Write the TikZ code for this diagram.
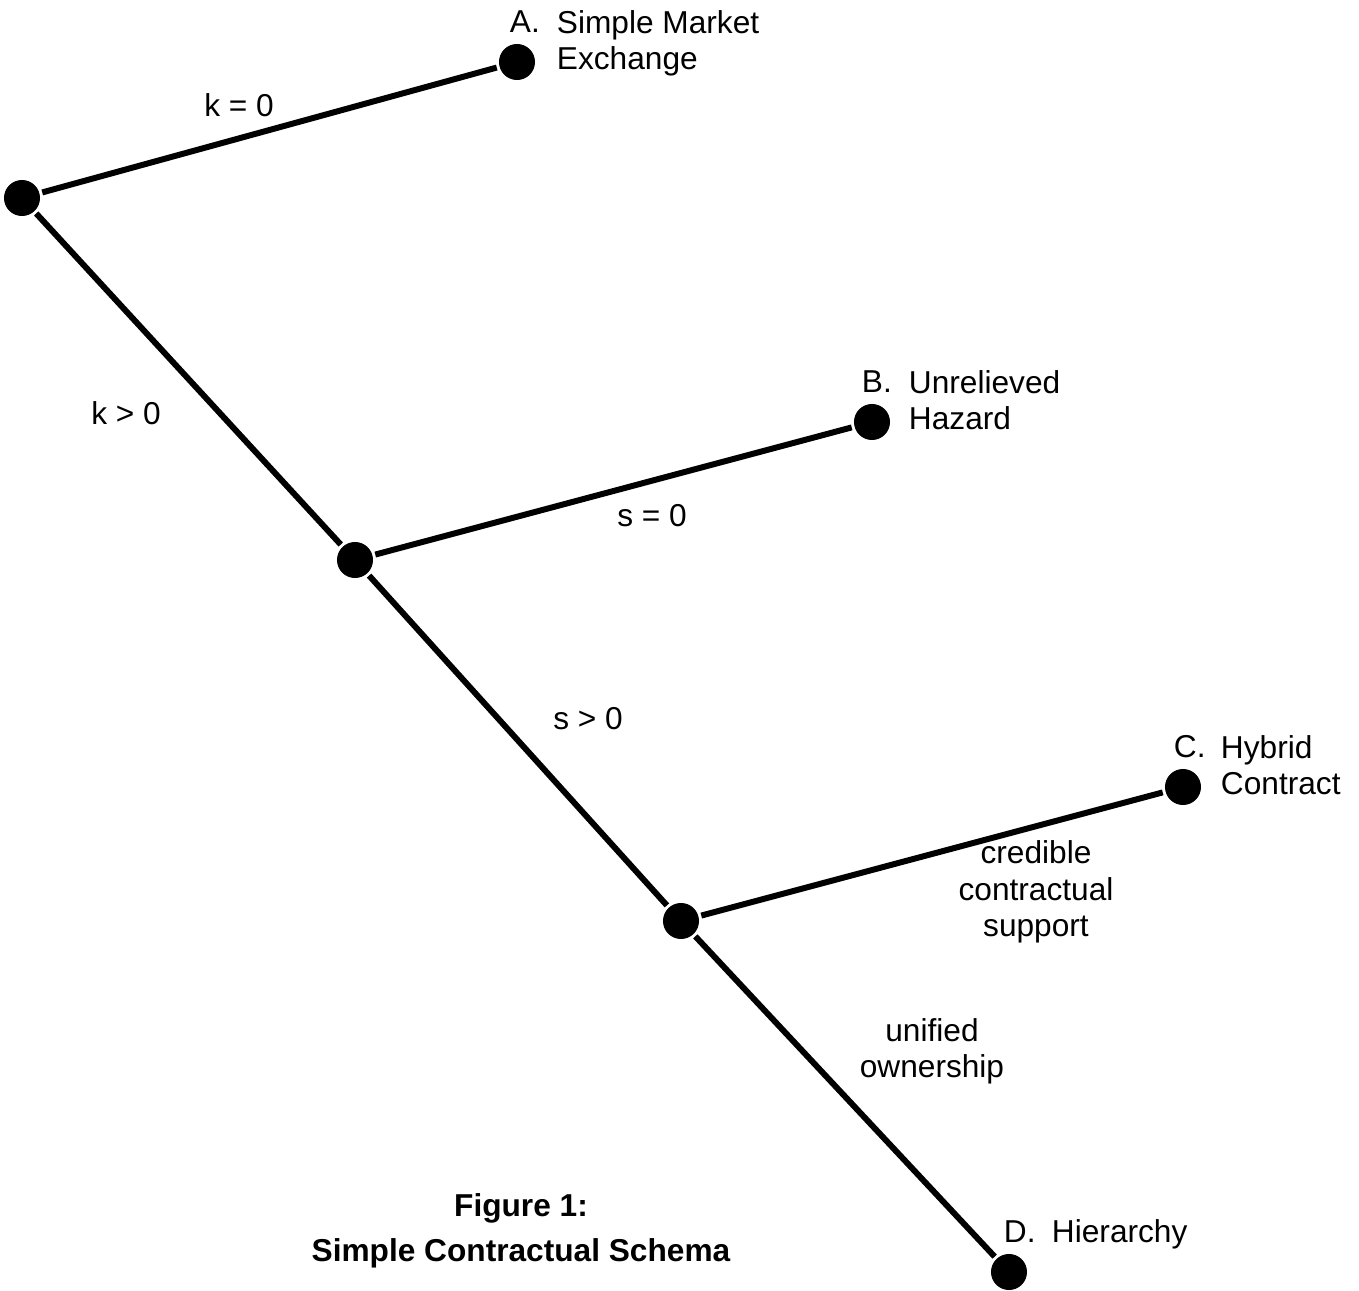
\documentclass[tikz,border=0pt]{standalone}
\usepackage{fontspec}
\setmainfont{Liberation Sans}

\begin{document}
\begin{tikzpicture}[x=0.01cm, y=-0.01cm, line width=1.7pt,
  every node/.style={inner sep=0pt, font=\fontsize{9pt}{10.5pt}\selectfont},
  junction/.style={circle, fill=black, minimum size=3.6mm}]

\useasboundingbox (0,0) rectangle (1359,1291);

% branching points and outcomes
\node[junction] (root) at (22,198) {};
\node[junction] (mid) at (355,560) {};
\node[junction] (low) at (681,921) {};
\node[junction] (outA) at (517,62) {};
\node[junction] (outB) at (872,422) {};
\node[junction] (outC) at (1183,787) {};
\node[junction] (outD) at (1009,1272) {};

\draw (root)--(outA);
\draw (root)--(mid);
\draw (mid)--(outB);
\draw (mid)--(low);
\draw (low)--(outC);
\draw (low)--(outD);

% outcome labels (multi-line: base = last line)
\node[anchor=base west] (letA) at (507,33) {A.};
\node[anchor=base west, align=left] (nameA) at (554,70) {Simple Market\\Exchange};
\node[anchor=base west] (letB) at (859,393) {B.};
\node[anchor=base west, align=left] (nameB) at (906,430) {Unrelieved\\Hazard};
\node[anchor=base west] (letC) at (1171,758) {C.};
\node[anchor=base west, align=left] (nameC) at (1218,795) {Hybrid\\Contract};
\node[anchor=base west] (letD) at (1001,1243) {D.};
\node[anchor=base west] (nameD) at (1049,1243) {Hierarchy};

% branch labels
\node[anchor=base] (k0) at (239,117) {k = 0};
\node[anchor=base] (k1) at (126,425) {k > 0};
\node[anchor=base] (s0) at (652,527) {s = 0};
\node[anchor=base] (s1) at (588,730) {s > 0};
\node[anchor=base, align=center] (cred) at (1036,937) {credible\\contractual\\support};
\node[anchor=base, align=center] (own) at (932,1078) {unified\\ownership};

% \node [below] at (521,1190) {caption};
\node[anchor=base, align=center, font=\fontsize{9pt}{10.5pt}\selectfont\bfseries] (caption) at (521,1262) {Figure 1:\\[2.5pt]Simple Contractual Schema};

\end{tikzpicture}
\end{document}
